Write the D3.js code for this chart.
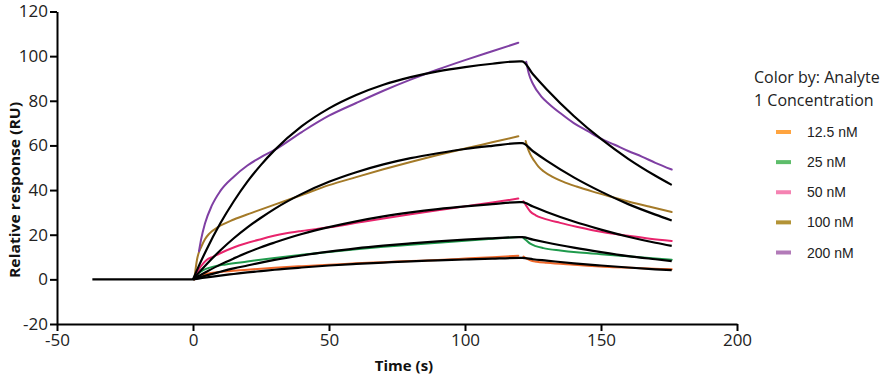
<!DOCTYPE html>
<html>
<head>
<meta charset="utf-8">
<script src="https://cdn.jsdelivr.net/npm/d3@7"></script>
<style>
  html, body { margin: 0; padding: 0; background: #fff; }
  svg { display: block; }
</style>
</head>
<body>
<svg id="chart" width="892" height="379"></svg>
<script>
// ---------- data ----------
const xTicks = [-50, 0, 50, 100, 150, 200];
const yTicks = [-20, 0, 20, 40, 60, 80, 100, 120];
const concentrations = ["12.5 nM", "25 nM", "50 nM", "100 nM", "200 nM"];
const lineColors   = ["#f0682a", "#1f9a4c", "#e8246c", "#a47a28", "#7f3fa3"];
const legendColors = ["#ffa43f", "#5dbd6a", "#f582b2", "#b39336", "#b27ab8"];

// baseline (before injection)
const baselineTimes = [-37, 0];
const baselineValues = [0, 0];

// measured responses [time, RU]: association and dissociation parts
const orangeAssoc = [[0.5,0],[1.5,1],[3,1.8],[6,2.7],[10,3.3],[20,4.3],[30,5.2],[40,5.9],[50,6.5],[60,7.2],[70,7.7],[80,8.2],[90,8.7],[100,9.3],[110,9.9],[119.6,10.6]];
const orangeDiss  = [[121.5,10.2],[122.7,9.3],[124,8.5],[126.4,7.9],[130,7.4],[140,6.5],[153,5.5],[165,5],[176,4.5]];
const greenAssoc  = [[0.5,0],[1.5,2],[3,3.6],[5,4.8],[7.5,5.7],[12,6.7],[20,8],[30,9.6],[40,11],[50,12.3],[60,13.5],[70,14.6],[80,15.5],[90,16.4],[100,17.3],[110,18.2],[119.6,19]];
const greenDiss   = [[121.5,18.5],[122.5,17.5],[124,16],[126,14.9],[128.8,14],[135,12.9],[141,12.1],[150,11.3],[160,10.3],[170,9.3],[176,8.8]];
const pinkAssoc   = [[0.5,0],[1.5,3],[3,6],[5,8.7],[7.5,10.2],[10,11.7],[15.4,14.5],[25,18],[33.8,20.5],[40,21.7],[50,23.3],[60,25.3],[70,27.3],[80,29.2],[90,31],[100,32.7],[110,34.4],[119.6,36.2]];
const pinkDiss    = [[121.5,35],[122.5,33],[124,30.4],[126,28.7],[128.8,27.3],[135,25.3],[141,23.6],[150,21.3],[160,19.5],[168,18.2],[176,17.2]];
const brownAssoc  = [[0.5,0],[1,5],[1.5,9],[2,11.5],[3,14.5],[4.4,18],[6,20.5],[9.3,23.5],[15,26.8],[21.6,29.8],[30,33.5],[40,37.8],[50,42.2],[60,45.8],[70,49.3],[80,52.6],[90,55.7],[100,58.6],[110,61.4],[119.6,64.1]];
const brownDiss   = [[122.3,62],[123,59],[124,56],[125.5,53],[127,50.5],[129,48.3],[132,46],[136,43.8],[141,41.6],[147,39.3],[153,37.2],[160,34.9],[168,32.5],[176,30.2]];
const purpleAssoc = [[2.2,12.6],[3,18],[4.4,25],[6.9,33],[10,39.5],[15,46],[20,51],[25,54.8],[30,58],[40,66],[50,73.3],[60,79],[70,84.5],[80,89.5],[90,94],[100,98.2],[110,102.2],[119.6,106]];
const purpleDiss  = [[122.5,97.5],[123.5,92],[125,87.5],[128,82],[131,78.5],[135,74.5],[140,70],[145,66.5],[150,63],[155,60.3],[160,57.5],[165,55],[170,52.2],[176,49.2]];

// fitted curves (black)
const fitAssocTimes = [0, 2, 5, 10, 15, 20, 25, 30, 40, 50, 60, 70, 80, 90, 100, 110, 120];
const fitDissTimes  = [121, 125, 130, 140, 150, 160, 170, 176];
const orangeFitAssoc = [0,0.35,0.9,1.7,2.4,3.1,3.7,4.3,5.3,6.2,6.9,7.5,8.1,8.5,8.9,9.3,9.6];
const orangeFitDiss  = [9.6,9.0,8.4,7.2,6.2,5.3,4.5,4.1];
const greenFitAssoc  = [0,0.7,1.8,3.4,4.9,6.2,7.5,8.7,10.7,12.4,13.9,15.1,16.1,17.0,17.8,18.4,18.9];
const greenFitDiss   = [18.9,17.8,16.5,14.2,12.2,10.4,9.0,8.2];
const pinkFitAssoc   = [0,1.4,3.4,6.6,9.4,12.0,14.4,16.5,20.3,23.4,26.0,28.2,30.0,31.5,32.7,33.7,34.6];
const pinkFitDiss    = [34.6,32.6,30.2,25.9,22.3,19.1,16.4,15.0];
const brownFitAssoc  = [0,2.8,6.8,12.9,18.4,23.3,27.6,31.6,38.3,43.7,48.0,51.5,54.3,56.5,58.4,59.8,61.0];
const brownFitDiss   = [61,57.4,53.2,45.7,39.3,33.7,29.0,26.4];
const purpleFitAssoc = [0,5.6,13.4,25.0,35.0,43.8,51.3,57.9,68.6,76.6,82.6,87.2,90.6,93.2,95.1,96.6,97.7];
const purpleFitDiss  = [97.7,91.9,85.2,73.2,62.9,54.0,46.4,42.3];

// ---------- drawing ----------
const svg = d3.select("#chart");
const x = d3.scaleLinear().domain([-50, 200]).range([57, 737]);
const y = d3.scaleLinear().domain([-20, 120]).range([324, 11.5]);

const dataSeries = [
  [orangeAssoc, orangeDiss], [greenAssoc, greenDiss], [pinkAssoc, pinkDiss],
  [brownAssoc, brownDiss], [purpleAssoc, purpleDiss]
];
const fitSeries = [
  [orangeFitAssoc, orangeFitDiss], [greenFitAssoc, greenFitDiss], [pinkFitAssoc, pinkFitDiss],
  [brownFitAssoc, brownFitDiss], [purpleFitAssoc, purpleFitDiss]
];

const line = d3.line().x(d => x(d[0])).y(d => y(d[1])).curve(d3.curveMonotoneX);
const plot = svg.append("g");

// measured data
dataSeries.forEach((segs, i) => {
  segs.forEach(seg => {
    plot.append("path").datum(seg).attr("d", line)
      .attr("fill", "none").attr("stroke", lineColors[i])
      .attr("stroke-width", 2).attr("stroke-linecap", "round");
  });
});

// fits (black)
const baseline = baselineTimes.map((t, j) => [t, baselineValues[j]]);
plot.append("path").datum(baseline).attr("d", d3.line().x(d => x(d[0])).y(d => y(d[1])))
  .attr("fill", "none").attr("stroke", "#000").attr("stroke-width", 2.2);
fitSeries.forEach(([a, dd]) => {
  const pts = fitAssocTimes.map((t, j) => [t, a[j]]).concat(fitDissTimes.map((t, j) => [t, dd[j]]));
  plot.append("path").datum(pts).attr("d", line)
    .attr("fill", "none").attr("stroke", "#000")
    .attr("stroke-width", 2.2).attr("stroke-linejoin", "round");
});

// axes
const fontAxis = "'Open Sans', sans-serif";
const yAxis = svg.append("g").attr("transform", "translate(57,0)")
  .call(d3.axisLeft(y).tickValues(yTicks).tickFormat(d => String(d)).tickSize(7).tickSizeOuter(0).tickPadding(2));
const xAxis = svg.append("g").attr("transform", "translate(0,324)")
  .call(d3.axisBottom(x).tickValues(xTicks).tickFormat(d => String(d)).tickSize(7).tickSizeOuter(0).tickPadding(3));
[yAxis, xAxis].forEach(g => {
  g.select(".domain").attr("stroke", "#000").attr("stroke-width", 2);
  g.selectAll(".tick line").attr("stroke", "#000").attr("stroke-width", 2);
  g.selectAll(".tick text").attr("fill", "#222").style("font-family", fontAxis).style("font-size", "17px");
});

// axis titles
svg.append("text")
  .attr("transform", "translate(20,190) rotate(-90)")
  .attr("text-anchor", "middle")
  .style("font-family", fontAxis).style("font-weight", "bold").style("font-size", "15px")
  .attr("fill", "#111")
  .attr("textLength", 176).attr("lengthAdjust", "spacingAndGlyphs")
  .text("Relative response (RU)");
svg.append("text")
  .attr("x", 404).attr("y", 371)
  .attr("text-anchor", "middle")
  .style("font-family", fontAxis).style("font-weight", "bold").style("font-size", "15px")
  .attr("fill", "#111")
  .text("Time (s)");

// legend
const legend = svg.append("g");
legend.append("text").attr("x", 754).attr("y", 83)
  .style("font-family", fontAxis).style("font-size", "16px").attr("fill", "#222")
  .text("Color by: Analyte");
legend.append("text").attr("x", 754).attr("y", 106)
  .style("font-family", fontAxis).style("font-size", "16px").attr("fill", "#222")
  .text("1 Concentration");
const ly = d3.scalePoint().domain(concentrations).range([132, 252.5]);
concentrations.forEach((c, i) => {
  legend.append("rect").attr("x", 776).attr("y", ly(c) - 2).attr("width", 15).attr("height", 4)
    .attr("fill", legendColors[i]);
  legend.append("text").attr("x", 807).attr("y", ly(c) + 5)
    .style("font-family", "'Liberation Sans', Arial, sans-serif").style("font-size", "14px")
    .attr("fill", "#222").text(c);
});
</script>
</body>
</html>
